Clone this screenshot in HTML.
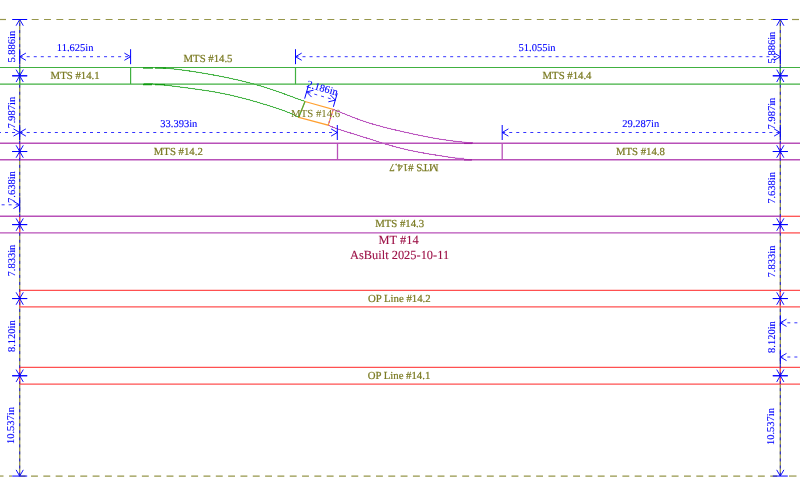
<!DOCTYPE html>
<html><head><meta charset="utf-8"><style>
html,body{margin:0;padding:0;background:#fff;}
body{width:800px;height:495px;overflow:hidden;}
svg{display:block;font-family:"Liberation Serif", serif;}
text{paint-order:stroke;text-rendering:geometricPrecision;}
.t{will-change:opacity;opacity:0.999;}
</style></head><body>
<svg class="t" width="800" height="495" viewBox="0 0 800 495">

<line x1="19.70" y1="19.50" x2="19.70" y2="476.05" stroke="#96964a" stroke-width="1.3" />
<line x1="780.30" y1="19.50" x2="780.30" y2="476.05" stroke="#96964a" stroke-width="1.3" />
<line x1="780.30" y1="216.30" x2="800.00" y2="216.30" stroke="#ff5050" stroke-width="1.3" />
<line x1="780.30" y1="232.90" x2="800.00" y2="232.90" stroke="#ff5050" stroke-width="1.3" />
<line x1="19.70" y1="216.30" x2="19.70" y2="232.90" stroke="#ff5050" stroke-width="1.2" />
<line x1="19.70" y1="290.30" x2="800.00" y2="290.30" stroke="#ff5050" stroke-width="1.3" />
<line x1="19.70" y1="306.80" x2="800.00" y2="306.80" stroke="#ff5050" stroke-width="1.3" />
<line x1="19.70" y1="290.30" x2="19.70" y2="306.80" stroke="#ff5050" stroke-width="1.2" />
<line x1="780.30" y1="290.30" x2="780.30" y2="306.80" stroke="#ff5050" stroke-width="1.2" />
<line x1="19.70" y1="367.40" x2="800.00" y2="367.40" stroke="#ff5050" stroke-width="1.3" />
<line x1="19.70" y1="384.10" x2="800.00" y2="384.10" stroke="#ff5050" stroke-width="1.3" />
<line x1="19.70" y1="367.40" x2="19.70" y2="384.10" stroke="#ff5050" stroke-width="1.2" />
<line x1="780.30" y1="367.40" x2="780.30" y2="384.10" stroke="#ff5050" stroke-width="1.2" />
<line x1="0.00" y1="216.30" x2="780.30" y2="216.30" stroke="#b850b8" stroke-width="1.4" />
<line x1="0.00" y1="232.90" x2="780.30" y2="232.90" stroke="#b850b8" stroke-width="1.4" />
<line x1="780.30" y1="216.30" x2="780.30" y2="232.90" stroke="#b850b8" stroke-width="1.3" />
<line x1="0.00" y1="143.30" x2="800.00" y2="143.30" stroke="#b850b8" stroke-width="1.4" />
<line x1="0.00" y1="159.75" x2="800.00" y2="159.75" stroke="#b850b8" stroke-width="1.4" />
<line x1="19.70" y1="143.30" x2="19.70" y2="159.75" stroke="#b850b8" stroke-width="1.3" />
<line x1="337.50" y1="143.30" x2="337.50" y2="159.75" stroke="#b850b8" stroke-width="1.3" />
<line x1="502.20" y1="143.30" x2="502.20" y2="159.75" stroke="#b850b8" stroke-width="1.3" />
<line x1="780.30" y1="143.30" x2="780.30" y2="159.75" stroke="#b850b8" stroke-width="1.3" />
<line x1="0.00" y1="67.50" x2="800.00" y2="67.50" stroke="#40b040" stroke-width="1.2" />
<line x1="0.00" y1="84.10" x2="800.00" y2="84.10" stroke="#40b040" stroke-width="1.2" />
<line x1="19.70" y1="67.50" x2="19.70" y2="84.10" stroke="#40b040" stroke-width="1.2" />
<line x1="130.60" y1="67.50" x2="130.60" y2="84.10" stroke="#40b040" stroke-width="1.2" />
<line x1="295.50" y1="67.50" x2="295.50" y2="84.10" stroke="#40b040" stroke-width="1.2" />
<line x1="780.30" y1="67.50" x2="780.30" y2="84.10" stroke="#40b040" stroke-width="1.2" />
<polyline points="143.00,67.60 143.84,67.59 144.67,67.56 145.51,67.54 146.35,67.52 147.18,67.51 148.02,67.50 148.86,67.50 149.69,67.50 150.53,67.51 151.37,67.51 152.20,67.53 153.04,67.54 153.88,67.56 154.71,67.59 155.55,67.62 156.38,67.65 157.22,67.68 158.05,67.72 158.89,67.76 159.73,67.81 160.56,67.86 161.39,67.91 162.23,67.96 163.06,68.02 163.90,68.08 164.73,68.14 165.57,68.21 166.40,68.28 167.23,68.35 168.06,68.42 168.90,68.50 169.73,68.57 170.56,68.65 171.39,68.74 172.23,68.82 173.06,68.91 173.89,69.00 174.72,69.09 175.55,69.18 176.38,69.28 177.21,69.38 178.04,69.48 178.87,69.58 179.70,69.68 180.53,69.78 181.36,69.89 182.19,70.00 183.02,70.11 183.85,70.22 184.68,70.33 185.51,70.44 186.34,70.56 187.16,70.67 187.99,70.79 188.82,70.91 189.65,71.03 190.47,71.15 191.30,71.28 192.13,71.40 192.96,71.53 193.78,71.65 194.61,71.78 195.43,71.91 196.26,72.04 197.09,72.17 197.91,72.30 198.74,72.44 199.56,72.57 200.39,72.71 201.21,72.84 202.04,72.98 202.86,73.12 203.69,73.26 204.51,73.40 205.34,73.54 206.16,73.68 206.99,73.83 207.81,73.97 208.63,74.12 209.46,74.26 210.28,74.41 211.10,74.56 211.93,74.71 212.75,74.86 213.57,75.01 214.39,75.16 215.22,75.32 216.04,75.47 216.86,75.63 217.68,75.79 218.50,75.94 219.33,76.10 220.15,76.26 220.97,76.42 221.79,76.59 222.61,76.75 223.43,76.91 224.25,77.08 225.07,77.25 225.89,77.41 226.71,77.58 227.53,77.75 228.35,77.93 229.16,78.10 229.98,78.27 230.80,78.45 231.62,78.63 232.43,78.80 233.25,78.98 234.07,79.17 234.88,79.35 235.70,79.53 236.52,79.72 237.33,79.90 238.15,80.09 238.96,80.28 239.78,80.47 240.59,80.67 241.40,80.86 242.22,81.06 243.03,81.26 243.84,81.46 244.65,81.66 245.46,81.86 246.27,82.06 247.09,82.27 247.90,82.48 248.70,82.69 249.51,82.90 250.32,83.11 251.13,83.33 251.94,83.54 252.74,83.76 253.55,83.98 254.36,84.21 255.16,84.43 255.97,84.66 256.77,84.89 257.58,85.12 258.38,85.35 259.18,85.58 259.98,85.82 260.79,86.06 261.59,86.30 262.39,86.54 263.19,86.78 263.99,87.03 264.79,87.27 265.58,87.52 266.38,87.77 267.18,88.03 267.98,88.28 268.77,88.54 269.57,88.80 270.36,89.06 271.16,89.32 271.95,89.58 272.74,89.85 273.54,90.12 274.33,90.38 275.12,90.65 275.91,90.93 276.70,91.20 277.49,91.48 278.28,91.75 279.07,92.03 279.86,92.31 280.65,92.59 281.43,92.87 282.22,93.16 283.01,93.44 283.80,93.73 284.58,94.01 285.37,94.30 286.15,94.59 286.94,94.88 287.72,95.17 288.51,95.46 289.29,95.75 290.08,96.04 290.86,96.33 291.65,96.62 292.43,96.91 293.21,97.21 294.00,97.50 294.78,97.79 295.57,98.08 296.35,98.37 297.14,98.66 297.92,98.95 298.71,99.23 299.49,99.52 300.28,99.81 301.06,100.09 301.85,100.37 302.64,100.65 303.43,100.93 304.22,101.21 305.00,101.50" fill="none" stroke="#50b850" stroke-width="1.0" stroke-linejoin="round" shape-rendering="crispEdges"/>
<polyline points="143.00,84.10 143.81,84.03 144.62,83.99 145.43,83.95 146.24,83.92 147.05,83.91 147.86,83.90 148.67,83.90 149.47,83.91 150.28,83.92 151.08,83.95 151.89,83.98 152.69,84.01 153.49,84.05 154.29,84.10 155.09,84.15 155.90,84.21 156.70,84.27 157.50,84.34 158.30,84.41 159.10,84.48 159.90,84.56 160.70,84.63 161.50,84.72 162.29,84.80 163.09,84.89 163.89,84.98 164.69,85.07 165.49,85.16 166.29,85.25 167.09,85.35 167.89,85.44 168.68,85.54 169.48,85.64 170.28,85.74 171.08,85.84 171.88,85.94 172.68,86.04 173.48,86.14 174.27,86.25 175.07,86.35 175.87,86.45 176.67,86.56 177.47,86.66 178.27,86.76 179.07,86.87 179.87,86.97 180.67,87.08 181.46,87.18 182.26,87.29 183.06,87.39 183.86,87.50 184.66,87.60 185.46,87.71 186.26,87.81 187.06,87.92 187.86,88.02 188.66,88.13 189.45,88.23 190.25,88.34 191.05,88.45 191.85,88.56 192.65,88.66 193.45,88.77 194.25,88.88 195.04,88.99 195.84,89.10 196.64,89.21 197.44,89.32 198.24,89.43 199.03,89.55 199.83,89.66 200.63,89.77 201.42,89.89 202.22,90.01 203.02,90.12 203.81,90.24 204.61,90.36 205.41,90.48 206.20,90.61 207.00,90.73 207.79,90.85 208.59,90.98 209.38,91.11 210.17,91.24 210.97,91.37 211.76,91.50 212.55,91.63 213.35,91.77 214.14,91.91 214.93,92.04 215.72,92.18 216.52,92.33 217.31,92.47 218.10,92.62 218.89,92.76 219.68,92.91 220.47,93.06 221.26,93.22 222.05,93.37 222.84,93.53 223.62,93.69 224.41,93.85 225.20,94.01 225.99,94.18 226.77,94.34 227.56,94.51 228.35,94.68 229.13,94.85 229.92,95.03 230.70,95.20 231.49,95.38 232.27,95.56 233.06,95.75 233.84,95.93 234.62,96.11 235.41,96.30 236.19,96.49 236.97,96.68 237.75,96.88 238.53,97.07 239.32,97.27 240.10,97.46 240.88,97.66 241.66,97.86 242.44,98.07 243.22,98.27 244.00,98.48 244.78,98.69 245.55,98.89 246.33,99.10 247.11,99.32 247.89,99.53 248.67,99.74 249.44,99.96 250.22,100.17 251.00,100.39 251.77,100.61 252.55,100.83 253.33,101.05 254.10,101.27 254.88,101.50 255.65,101.72 256.43,101.95 257.20,102.17 257.98,102.40 258.75,102.63 259.52,102.86 260.30,103.09 261.07,103.32 261.84,103.55 262.61,103.78 263.39,104.01 264.16,104.25 264.93,104.48 265.70,104.72 266.47,104.96 267.24,105.19 268.01,105.43 268.78,105.67 269.55,105.91 270.32,106.15 271.08,106.39 271.85,106.64 272.62,106.88 273.38,107.13 274.15,107.38 274.91,107.63 275.68,107.88 276.44,108.13 277.20,108.38 277.96,108.64 278.72,108.90 279.48,109.16 280.24,109.42 281.00,109.68 281.76,109.95 282.51,110.22 283.27,110.49 284.02,110.77 284.77,111.05 285.52,111.34 286.27,111.62 287.02,111.92 287.77,112.21 288.51,112.51 289.25,112.82 289.99,113.13 290.73,113.45 291.47,113.77 292.20,114.10 292.93,114.44 293.66,114.79 294.39,115.14 295.12,115.50 295.84,115.87 296.56,116.25 297.28,116.64 297.99,117.03 298.70,117.40" fill="none" stroke="#50b850" stroke-width="1.0" stroke-linejoin="round" shape-rendering="crispEdges"/>
<polyline points="143.00,67.60 143.84,67.59 144.67,67.56 145.51,67.54 146.35,67.52 147.18,67.51 148.02,67.50 148.86,67.50 149.69,67.50 150.53,67.51 151.37,67.51 152.20,67.53 153.04,67.54 153.88,67.56 154.71,67.59 155.55,67.62 156.38,67.65 157.22,67.68 158.05,67.72 158.89,67.76 159.73,67.81 160.56,67.86 161.39,67.91 162.23,67.96 163.06,68.02 163.90,68.08 164.73,68.14 165.57,68.21 166.40,68.28 167.23,68.35 168.06,68.42 168.90,68.50 169.73,68.57 170.56,68.65 171.39,68.74 172.23,68.82 173.06,68.91 173.89,69.00 174.72,69.09 175.55,69.18 176.38,69.28 177.21,69.38 178.04,69.48 178.87,69.58 179.70,69.68 180.53,69.78 181.36,69.89 182.19,70.00 183.02,70.11 183.85,70.22 184.68,70.33 185.51,70.44 186.34,70.56 187.16,70.67 187.99,70.79 188.82,70.91 189.65,71.03 190.47,71.15 191.30,71.28 192.13,71.40 192.96,71.53 193.78,71.65 194.61,71.78 195.43,71.91 196.26,72.04 197.09,72.17 197.91,72.30 198.74,72.44 199.56,72.57 200.39,72.71 201.21,72.84 202.04,72.98 202.86,73.12 203.69,73.26 204.51,73.40 205.34,73.54 206.16,73.68 206.99,73.83 207.81,73.97 208.63,74.12 209.46,74.26 210.28,74.41 211.10,74.56 211.93,74.71 212.75,74.86 213.57,75.01 214.39,75.16 215.22,75.32 216.04,75.47 216.86,75.63 217.68,75.79 218.50,75.94 219.33,76.10 220.15,76.26 220.97,76.42 221.79,76.59 222.61,76.75 223.43,76.91 224.25,77.08 225.07,77.25 225.89,77.41 226.71,77.58 227.53,77.75 228.35,77.93 229.16,78.10 229.98,78.27 230.80,78.45 231.62,78.63 232.43,78.80 233.25,78.98 234.07,79.17 234.88,79.35 235.70,79.53 236.52,79.72 237.33,79.90 238.15,80.09 238.96,80.28 239.78,80.47 240.59,80.67 241.40,80.86 242.22,81.06 243.03,81.26 243.84,81.46 244.65,81.66 245.46,81.86 246.27,82.06 247.09,82.27 247.90,82.48 248.70,82.69 249.51,82.90 250.32,83.11 251.13,83.33 251.94,83.54 252.74,83.76 253.55,83.98 254.36,84.21 255.16,84.43 255.97,84.66 256.77,84.89 257.58,85.12 258.38,85.35 259.18,85.58 259.98,85.82 260.79,86.06 261.59,86.30 262.39,86.54 263.19,86.78 263.99,87.03 264.79,87.27 265.58,87.52 266.38,87.77 267.18,88.03 267.98,88.28 268.77,88.54 269.57,88.80 270.36,89.06 271.16,89.32 271.95,89.58 272.74,89.85 273.54,90.12 274.33,90.38 275.12,90.65 275.91,90.93 276.70,91.20 277.49,91.48 278.28,91.75 279.07,92.03 279.86,92.31 280.65,92.59 281.43,92.87 282.22,93.16 283.01,93.44 283.80,93.73 284.58,94.01 285.37,94.30 286.15,94.59 286.94,94.88 287.72,95.17 288.51,95.46 289.29,95.75 290.08,96.04 290.86,96.33 291.65,96.62 292.43,96.91 293.21,97.21 294.00,97.50 294.78,97.79 295.57,98.08 296.35,98.37 297.14,98.66 297.92,98.95 298.71,99.23 299.49,99.52 300.28,99.81 301.06,100.09 301.85,100.37 302.64,100.65 303.43,100.93 304.22,101.21 305.00,101.50" fill="none" stroke="#40b040" stroke-width="1.0" stroke-linejoin="round" opacity="0.6"/>
<polyline points="143.00,84.10 143.81,84.03 144.62,83.99 145.43,83.95 146.24,83.92 147.05,83.91 147.86,83.90 148.67,83.90 149.47,83.91 150.28,83.92 151.08,83.95 151.89,83.98 152.69,84.01 153.49,84.05 154.29,84.10 155.09,84.15 155.90,84.21 156.70,84.27 157.50,84.34 158.30,84.41 159.10,84.48 159.90,84.56 160.70,84.63 161.50,84.72 162.29,84.80 163.09,84.89 163.89,84.98 164.69,85.07 165.49,85.16 166.29,85.25 167.09,85.35 167.89,85.44 168.68,85.54 169.48,85.64 170.28,85.74 171.08,85.84 171.88,85.94 172.68,86.04 173.48,86.14 174.27,86.25 175.07,86.35 175.87,86.45 176.67,86.56 177.47,86.66 178.27,86.76 179.07,86.87 179.87,86.97 180.67,87.08 181.46,87.18 182.26,87.29 183.06,87.39 183.86,87.50 184.66,87.60 185.46,87.71 186.26,87.81 187.06,87.92 187.86,88.02 188.66,88.13 189.45,88.23 190.25,88.34 191.05,88.45 191.85,88.56 192.65,88.66 193.45,88.77 194.25,88.88 195.04,88.99 195.84,89.10 196.64,89.21 197.44,89.32 198.24,89.43 199.03,89.55 199.83,89.66 200.63,89.77 201.42,89.89 202.22,90.01 203.02,90.12 203.81,90.24 204.61,90.36 205.41,90.48 206.20,90.61 207.00,90.73 207.79,90.85 208.59,90.98 209.38,91.11 210.17,91.24 210.97,91.37 211.76,91.50 212.55,91.63 213.35,91.77 214.14,91.91 214.93,92.04 215.72,92.18 216.52,92.33 217.31,92.47 218.10,92.62 218.89,92.76 219.68,92.91 220.47,93.06 221.26,93.22 222.05,93.37 222.84,93.53 223.62,93.69 224.41,93.85 225.20,94.01 225.99,94.18 226.77,94.34 227.56,94.51 228.35,94.68 229.13,94.85 229.92,95.03 230.70,95.20 231.49,95.38 232.27,95.56 233.06,95.75 233.84,95.93 234.62,96.11 235.41,96.30 236.19,96.49 236.97,96.68 237.75,96.88 238.53,97.07 239.32,97.27 240.10,97.46 240.88,97.66 241.66,97.86 242.44,98.07 243.22,98.27 244.00,98.48 244.78,98.69 245.55,98.89 246.33,99.10 247.11,99.32 247.89,99.53 248.67,99.74 249.44,99.96 250.22,100.17 251.00,100.39 251.77,100.61 252.55,100.83 253.33,101.05 254.10,101.27 254.88,101.50 255.65,101.72 256.43,101.95 257.20,102.17 257.98,102.40 258.75,102.63 259.52,102.86 260.30,103.09 261.07,103.32 261.84,103.55 262.61,103.78 263.39,104.01 264.16,104.25 264.93,104.48 265.70,104.72 266.47,104.96 267.24,105.19 268.01,105.43 268.78,105.67 269.55,105.91 270.32,106.15 271.08,106.39 271.85,106.64 272.62,106.88 273.38,107.13 274.15,107.38 274.91,107.63 275.68,107.88 276.44,108.13 277.20,108.38 277.96,108.64 278.72,108.90 279.48,109.16 280.24,109.42 281.00,109.68 281.76,109.95 282.51,110.22 283.27,110.49 284.02,110.77 284.77,111.05 285.52,111.34 286.27,111.62 287.02,111.92 287.77,112.21 288.51,112.51 289.25,112.82 289.99,113.13 290.73,113.45 291.47,113.77 292.20,114.10 292.93,114.44 293.66,114.79 294.39,115.14 295.12,115.50 295.84,115.87 296.56,116.25 297.28,116.64 297.99,117.03 298.70,117.40" fill="none" stroke="#40b040" stroke-width="1.0" stroke-linejoin="round" opacity="0.6"/>
<line x1="143.00" y1="68.00" x2="153.00" y2="68.00" stroke="#109a10" stroke-width="1.3" />
<line x1="143.00" y1="84.60" x2="152.00" y2="84.60" stroke="#109a10" stroke-width="1.3" />
<line x1="155.00" y1="68.00" x2="166.00" y2="68.00" stroke="#109a10" stroke-width="1.3" />
<line x1="155.00" y1="84.60" x2="165.00" y2="84.60" stroke="#109a10" stroke-width="1.3" />
<polyline points="333.20,109.50 333.88,109.74 334.56,109.98 335.23,110.23 335.91,110.48 336.58,110.74 337.26,111.00 337.93,111.26 338.60,111.52 339.28,111.78 339.95,112.05 340.62,112.32 341.29,112.59 341.96,112.86 342.63,113.13 343.31,113.40 343.98,113.67 344.65,113.95 345.32,114.22 345.99,114.49 346.66,114.76 347.33,115.03 348.00,115.30 348.68,115.57 349.35,115.84 350.02,116.11 350.69,116.38 351.37,116.64 352.04,116.91 352.72,117.17 353.39,117.43 354.07,117.69 354.74,117.95 355.42,118.21 356.10,118.46 356.78,118.72 357.45,118.97 358.13,119.22 358.81,119.47 359.49,119.71 360.17,119.96 360.85,120.20 361.54,120.44 362.22,120.67 362.90,120.91 363.59,121.14 364.27,121.37 364.96,121.60 365.64,121.83 366.33,122.06 367.02,122.28 367.70,122.50 368.39,122.72 369.08,122.94 369.77,123.15 370.46,123.37 371.15,123.58 371.84,123.79 372.54,123.99 373.23,124.20 373.92,124.40 374.62,124.61 375.31,124.81 376.00,125.00 376.70,125.20 377.40,125.40 378.09,125.59 378.79,125.78 379.49,125.97 380.18,126.16 380.88,126.35 381.58,126.54 382.28,126.72 382.98,126.90 383.68,127.09 384.38,127.27 385.08,127.45 385.78,127.63 386.48,127.80 387.18,127.98 387.88,128.16 388.58,128.33 389.28,128.50 389.99,128.68 390.69,128.85 391.39,129.02 392.09,129.19 392.80,129.36 393.50,129.53 394.20,129.69 394.91,129.86 395.61,130.03 396.32,130.19 397.02,130.36 397.72,130.52 398.43,130.68 399.13,130.85 399.84,131.01 400.54,131.17 401.25,131.33 401.95,131.49 402.66,131.65 403.36,131.81 404.07,131.97 404.78,132.13 405.48,132.29 406.19,132.45 406.89,132.60 407.60,132.76 408.30,132.92 409.01,133.07 409.72,133.23 410.42,133.38 411.13,133.54 411.83,133.69 412.54,133.85 413.25,134.00 413.95,134.15 414.66,134.30 415.37,134.45 416.07,134.60 416.78,134.75 417.49,134.90 418.19,135.05 418.90,135.20 419.61,135.35 420.32,135.49 421.02,135.64 421.73,135.79 422.44,135.93 423.15,136.07 423.86,136.22 424.56,136.36 425.27,136.50 425.98,136.64 426.69,136.78 427.40,136.92 428.11,137.05 428.82,137.19 429.53,137.32 430.24,137.46 430.95,137.59 431.66,137.72 432.37,137.85 433.08,137.98 433.79,138.11 434.50,138.23 435.21,138.36 435.92,138.48 436.63,138.61 437.35,138.73 438.06,138.85 438.77,138.96 439.48,139.08 440.20,139.19 440.91,139.31 441.63,139.42 442.34,139.53 443.05,139.64 443.77,139.75 444.48,139.85 445.20,139.95 445.92,140.06 446.63,140.16 447.35,140.26 448.06,140.35 448.78,140.45 449.50,140.54 450.22,140.64 450.93,140.73 451.65,140.82 452.37,140.91 453.09,140.99 453.81,141.08 454.53,141.16 455.25,141.24 455.97,141.33 456.69,141.41 457.40,141.48 458.12,141.56 458.84,141.64 459.56,141.72 460.28,141.79 461.00,141.87 461.72,141.94 462.44,142.01 463.16,142.09 463.88,142.16 464.60,142.23 465.32,142.31 466.04,142.38 466.76,142.45 467.48,142.53 468.19,142.60 468.91,142.68 469.63,142.75 470.34,142.83 471.06,142.91 471.77,142.99 472.50,143.00" fill="none" stroke="#c060c8" stroke-width="1.0" stroke-linejoin="round" shape-rendering="crispEdges"/>
<polyline points="328.20,125.20 328.89,125.51 329.58,125.81 330.27,126.11 330.96,126.40 331.65,126.68 332.34,126.96 333.04,127.23 333.73,127.50 334.43,127.76 335.12,128.02 335.82,128.27 336.52,128.52 337.22,128.76 337.92,129.01 338.62,129.24 339.32,129.48 340.02,129.71 340.72,129.94 341.42,130.17 342.13,130.40 342.83,130.62 343.53,130.85 344.24,131.07 344.94,131.29 345.64,131.51 346.35,131.73 347.05,131.95 347.76,132.17 348.46,132.38 349.16,132.60 349.87,132.82 350.57,133.04 351.28,133.25 351.98,133.47 352.69,133.69 353.40,133.91 354.10,134.12 354.81,134.34 355.51,134.56 356.22,134.78 356.92,135.00 357.63,135.22 358.33,135.44 359.04,135.66 359.74,135.88 360.45,136.10 361.16,136.32 361.86,136.55 362.57,136.77 363.27,136.99 363.98,137.22 364.69,137.44 365.39,137.66 366.10,137.89 366.80,138.11 367.51,138.34 368.22,138.56 368.92,138.79 369.63,139.02 370.33,139.24 371.04,139.47 371.75,139.69 372.46,139.92 373.16,140.14 373.87,140.37 374.58,140.59 375.28,140.82 375.99,141.04 376.70,141.27 377.41,141.49 378.11,141.71 378.82,141.93 379.53,142.16 380.24,142.38 380.95,142.60 381.66,142.82 382.37,143.03 383.08,143.25 383.79,143.47 384.50,143.68 385.21,143.90 385.92,144.11 386.63,144.32 387.34,144.54 388.05,144.74 388.76,144.95 389.48,145.16 390.19,145.37 390.90,145.57 391.62,145.77 392.33,145.97 393.04,146.17 393.76,146.37 394.47,146.57 395.19,146.76 395.90,146.95 396.62,147.14 397.33,147.33 398.05,147.52 398.77,147.71 399.48,147.89 400.20,148.07 400.92,148.25 401.64,148.43 402.36,148.61 403.08,148.78 403.80,148.96 404.52,149.13 405.24,149.30 405.96,149.47 406.68,149.63 407.40,149.80 408.12,149.96 408.84,150.12 409.57,150.28 410.29,150.43 411.01,150.59 411.74,150.74 412.46,150.89 413.18,151.04 413.91,151.19 414.63,151.34 415.36,151.48 416.09,151.63 416.81,151.77 417.54,151.91 418.26,152.05 418.99,152.18 419.72,152.32 420.45,152.46 421.17,152.59 421.90,152.72 422.63,152.85 423.36,152.98 424.09,153.11 424.82,153.24 425.55,153.37 426.28,153.49 427.01,153.62 427.74,153.74 428.47,153.86 429.20,153.98 429.93,154.11 430.66,154.23 431.39,154.35 432.12,154.47 432.85,154.58 433.58,154.70 434.31,154.82 435.05,154.94 435.78,155.05 436.51,155.17 437.24,155.29 437.97,155.40 438.70,155.52 439.44,155.63 440.17,155.75 440.90,155.86 441.63,155.97 442.37,156.09 443.10,156.20 443.83,156.31 444.56,156.43 445.30,156.54 446.03,156.65 446.76,156.76 447.49,156.87 448.23,156.99 448.96,157.10 449.69,157.21 450.42,157.32 451.16,157.43 451.89,157.54 452.62,157.64 453.35,157.75 454.09,157.86 454.82,157.96 455.55,158.07 456.29,158.17 457.02,158.28 457.75,158.38 458.49,158.48 459.22,158.58 459.95,158.67 460.69,158.77 461.42,158.86 462.15,158.95 462.89,159.04 463.62,159.12 464.36,159.20 465.09,159.28 465.83,159.36 466.57,159.43 467.30,159.50 468.04,159.56 468.78,159.62 469.51,159.68 470.25,159.73 471.00,159.70" fill="none" stroke="#c060c8" stroke-width="1.0" stroke-linejoin="round" shape-rendering="crispEdges"/>
<polyline points="333.20,109.50 333.88,109.74 334.56,109.98 335.23,110.23 335.91,110.48 336.58,110.74 337.26,111.00 337.93,111.26 338.60,111.52 339.28,111.78 339.95,112.05 340.62,112.32 341.29,112.59 341.96,112.86 342.63,113.13 343.31,113.40 343.98,113.67 344.65,113.95 345.32,114.22 345.99,114.49 346.66,114.76 347.33,115.03 348.00,115.30 348.68,115.57 349.35,115.84 350.02,116.11 350.69,116.38 351.37,116.64 352.04,116.91 352.72,117.17 353.39,117.43 354.07,117.69 354.74,117.95 355.42,118.21 356.10,118.46 356.78,118.72 357.45,118.97 358.13,119.22 358.81,119.47 359.49,119.71 360.17,119.96 360.85,120.20 361.54,120.44 362.22,120.67 362.90,120.91 363.59,121.14 364.27,121.37 364.96,121.60 365.64,121.83 366.33,122.06 367.02,122.28 367.70,122.50 368.39,122.72 369.08,122.94 369.77,123.15 370.46,123.37 371.15,123.58 371.84,123.79 372.54,123.99 373.23,124.20 373.92,124.40 374.62,124.61 375.31,124.81 376.00,125.00 376.70,125.20 377.40,125.40 378.09,125.59 378.79,125.78 379.49,125.97 380.18,126.16 380.88,126.35 381.58,126.54 382.28,126.72 382.98,126.90 383.68,127.09 384.38,127.27 385.08,127.45 385.78,127.63 386.48,127.80 387.18,127.98 387.88,128.16 388.58,128.33 389.28,128.50 389.99,128.68 390.69,128.85 391.39,129.02 392.09,129.19 392.80,129.36 393.50,129.53 394.20,129.69 394.91,129.86 395.61,130.03 396.32,130.19 397.02,130.36 397.72,130.52 398.43,130.68 399.13,130.85 399.84,131.01 400.54,131.17 401.25,131.33 401.95,131.49 402.66,131.65 403.36,131.81 404.07,131.97 404.78,132.13 405.48,132.29 406.19,132.45 406.89,132.60 407.60,132.76 408.30,132.92 409.01,133.07 409.72,133.23 410.42,133.38 411.13,133.54 411.83,133.69 412.54,133.85 413.25,134.00 413.95,134.15 414.66,134.30 415.37,134.45 416.07,134.60 416.78,134.75 417.49,134.90 418.19,135.05 418.90,135.20 419.61,135.35 420.32,135.49 421.02,135.64 421.73,135.79 422.44,135.93 423.15,136.07 423.86,136.22 424.56,136.36 425.27,136.50 425.98,136.64 426.69,136.78 427.40,136.92 428.11,137.05 428.82,137.19 429.53,137.32 430.24,137.46 430.95,137.59 431.66,137.72 432.37,137.85 433.08,137.98 433.79,138.11 434.50,138.23 435.21,138.36 435.92,138.48 436.63,138.61 437.35,138.73 438.06,138.85 438.77,138.96 439.48,139.08 440.20,139.19 440.91,139.31 441.63,139.42 442.34,139.53 443.05,139.64 443.77,139.75 444.48,139.85 445.20,139.95 445.92,140.06 446.63,140.16 447.35,140.26 448.06,140.35 448.78,140.45 449.50,140.54 450.22,140.64 450.93,140.73 451.65,140.82 452.37,140.91 453.09,140.99 453.81,141.08 454.53,141.16 455.25,141.24 455.97,141.33 456.69,141.41 457.40,141.48 458.12,141.56 458.84,141.64 459.56,141.72 460.28,141.79 461.00,141.87 461.72,141.94 462.44,142.01 463.16,142.09 463.88,142.16 464.60,142.23 465.32,142.31 466.04,142.38 466.76,142.45 467.48,142.53 468.19,142.60 468.91,142.68 469.63,142.75 470.34,142.83 471.06,142.91 471.77,142.99 472.50,143.00" fill="none" stroke="#b850b8" stroke-width="1.0" stroke-linejoin="round" opacity="0.6"/>
<polyline points="328.20,125.20 328.89,125.51 329.58,125.81 330.27,126.11 330.96,126.40 331.65,126.68 332.34,126.96 333.04,127.23 333.73,127.50 334.43,127.76 335.12,128.02 335.82,128.27 336.52,128.52 337.22,128.76 337.92,129.01 338.62,129.24 339.32,129.48 340.02,129.71 340.72,129.94 341.42,130.17 342.13,130.40 342.83,130.62 343.53,130.85 344.24,131.07 344.94,131.29 345.64,131.51 346.35,131.73 347.05,131.95 347.76,132.17 348.46,132.38 349.16,132.60 349.87,132.82 350.57,133.04 351.28,133.25 351.98,133.47 352.69,133.69 353.40,133.91 354.10,134.12 354.81,134.34 355.51,134.56 356.22,134.78 356.92,135.00 357.63,135.22 358.33,135.44 359.04,135.66 359.74,135.88 360.45,136.10 361.16,136.32 361.86,136.55 362.57,136.77 363.27,136.99 363.98,137.22 364.69,137.44 365.39,137.66 366.10,137.89 366.80,138.11 367.51,138.34 368.22,138.56 368.92,138.79 369.63,139.02 370.33,139.24 371.04,139.47 371.75,139.69 372.46,139.92 373.16,140.14 373.87,140.37 374.58,140.59 375.28,140.82 375.99,141.04 376.70,141.27 377.41,141.49 378.11,141.71 378.82,141.93 379.53,142.16 380.24,142.38 380.95,142.60 381.66,142.82 382.37,143.03 383.08,143.25 383.79,143.47 384.50,143.68 385.21,143.90 385.92,144.11 386.63,144.32 387.34,144.54 388.05,144.74 388.76,144.95 389.48,145.16 390.19,145.37 390.90,145.57 391.62,145.77 392.33,145.97 393.04,146.17 393.76,146.37 394.47,146.57 395.19,146.76 395.90,146.95 396.62,147.14 397.33,147.33 398.05,147.52 398.77,147.71 399.48,147.89 400.20,148.07 400.92,148.25 401.64,148.43 402.36,148.61 403.08,148.78 403.80,148.96 404.52,149.13 405.24,149.30 405.96,149.47 406.68,149.63 407.40,149.80 408.12,149.96 408.84,150.12 409.57,150.28 410.29,150.43 411.01,150.59 411.74,150.74 412.46,150.89 413.18,151.04 413.91,151.19 414.63,151.34 415.36,151.48 416.09,151.63 416.81,151.77 417.54,151.91 418.26,152.05 418.99,152.18 419.72,152.32 420.45,152.46 421.17,152.59 421.90,152.72 422.63,152.85 423.36,152.98 424.09,153.11 424.82,153.24 425.55,153.37 426.28,153.49 427.01,153.62 427.74,153.74 428.47,153.86 429.20,153.98 429.93,154.11 430.66,154.23 431.39,154.35 432.12,154.47 432.85,154.58 433.58,154.70 434.31,154.82 435.05,154.94 435.78,155.05 436.51,155.17 437.24,155.29 437.97,155.40 438.70,155.52 439.44,155.63 440.17,155.75 440.90,155.86 441.63,155.97 442.37,156.09 443.10,156.20 443.83,156.31 444.56,156.43 445.30,156.54 446.03,156.65 446.76,156.76 447.49,156.87 448.23,156.99 448.96,157.10 449.69,157.21 450.42,157.32 451.16,157.43 451.89,157.54 452.62,157.64 453.35,157.75 454.09,157.86 454.82,157.96 455.55,158.07 456.29,158.17 457.02,158.28 457.75,158.38 458.49,158.48 459.22,158.58 459.95,158.67 460.69,158.77 461.42,158.86 462.15,158.95 462.89,159.04 463.62,159.12 464.36,159.20 465.09,159.28 465.83,159.36 466.57,159.43 467.30,159.50 468.04,159.56 468.78,159.62 469.51,159.68 470.25,159.73 471.00,159.70" fill="none" stroke="#b850b8" stroke-width="1.0" stroke-linejoin="round" opacity="0.6"/>
<line x1="455.00" y1="158.55" x2="464.00" y2="158.55" stroke="#c060c8" stroke-width="1.4" />
<line x1="464.00" y1="143.40" x2="472.50" y2="143.40" stroke="#a020a0" stroke-width="1.3" />
<line x1="464.00" y1="159.85" x2="472.00" y2="159.85" stroke="#a020a0" stroke-width="1.3" />
<polygon points="305.0,101.5 333.2,109.5 328.2,125.2 298.7,117.4" fill="none" stroke="#ffa030" stroke-width="1.2"/>
<line x1="305.00" y1="101.50" x2="298.70" y2="117.40" stroke="#40b040" stroke-width="1.1" />
<line x1="333.20" y1="109.50" x2="328.20" y2="125.20" stroke="#b850b8" stroke-width="1.1" stroke-dasharray="2 2" stroke-dashoffset="0" />
<line x1="19.40" y1="19.50" x2="780.30" y2="19.50" stroke="#96964a" stroke-width="1.2" stroke-dasharray="6.9 5.42" stroke-dashoffset="0" />
<line x1="-1.00" y1="19.50" x2="6.00" y2="19.50" stroke="#96964a" stroke-width="1.2" />
<line x1="792.00" y1="19.50" x2="799.00" y2="19.50" stroke="#96964a" stroke-width="1.2" />
<line x1="18.70" y1="476.05" x2="780.30" y2="476.05" stroke="#96964a" stroke-width="1.3" stroke-dasharray="6.9 5.42" stroke-dashoffset="0" />
<line x1="-1.00" y1="476.05" x2="3.50" y2="476.05" stroke="#96964a" stroke-width="1.2" />
<line x1="9.00" y1="476.05" x2="12.00" y2="476.05" stroke="#96964a" stroke-width="1.2" />
<line x1="789.00" y1="476.05" x2="796.50" y2="476.05" stroke="#96964a" stroke-width="1.2" />
<line x1="19.70" y1="75.80" x2="19.70" y2="19.50" stroke="#0000ff" stroke-width="0.8" stroke-dasharray="3 4.03" stroke-dashoffset="6.5"/>
<polyline points="23.30,25.70 19.70,19.50 16.10,25.70" fill="none" stroke="#0000ff" stroke-width="0.95"/>
<polyline points="16.10,69.60 19.70,75.80 23.30,69.60" fill="none" stroke="#0000ff" stroke-width="0.95"/>
<line x1="27.20" y1="19.50" x2="12.20" y2="19.50" stroke="#0000ff" stroke-width="1.0" />
<line x1="27.20" y1="75.80" x2="12.20" y2="75.80" stroke="#0000ff" stroke-width="1.0" />
<text x="15.40" y="46.65" fill="#0000ff" stroke="#0000ff" stroke-width="0.12" font-size="10.5" text-anchor="middle" transform="rotate(-90 15.40 46.65)" >5.886in</text>
<line x1="780.30" y1="75.80" x2="780.30" y2="19.50" stroke="#0000ff" stroke-width="0.8" stroke-dasharray="3 4.03" stroke-dashoffset="6.5"/>
<polyline points="783.90,25.70 780.30,19.50 776.70,25.70" fill="none" stroke="#0000ff" stroke-width="0.95"/>
<polyline points="776.70,69.60 780.30,75.80 783.90,69.60" fill="none" stroke="#0000ff" stroke-width="0.95"/>
<line x1="787.80" y1="19.50" x2="772.80" y2="19.50" stroke="#0000ff" stroke-width="1.0" />
<line x1="787.80" y1="75.80" x2="772.80" y2="75.80" stroke="#0000ff" stroke-width="1.0" />
<text x="775.00" y="47.55" fill="#0000ff" stroke="#0000ff" stroke-width="0.12" font-size="10.5" text-anchor="middle" transform="rotate(-90 775.00 47.55)" >5.886in</text>
<line x1="19.70" y1="151.53" x2="19.70" y2="75.80" stroke="#0000ff" stroke-width="0.8" stroke-dasharray="3 4.03" stroke-dashoffset="6.5"/>
<polyline points="23.30,82.00 19.70,75.80 16.10,82.00" fill="none" stroke="#0000ff" stroke-width="0.95"/>
<polyline points="16.10,145.33 19.70,151.53 23.30,145.33" fill="none" stroke="#0000ff" stroke-width="0.95"/>
<line x1="27.20" y1="75.80" x2="12.20" y2="75.80" stroke="#0000ff" stroke-width="1.0" />
<line x1="27.20" y1="151.53" x2="12.20" y2="151.53" stroke="#0000ff" stroke-width="1.0" />
<text x="15.40" y="112.66" fill="#0000ff" stroke="#0000ff" stroke-width="0.12" font-size="10.5" text-anchor="middle" transform="rotate(-90 15.40 112.66)" >7.987in</text>
<line x1="780.30" y1="151.53" x2="780.30" y2="75.80" stroke="#0000ff" stroke-width="0.8" stroke-dasharray="3 4.03" stroke-dashoffset="6.5"/>
<polyline points="783.90,82.00 780.30,75.80 776.70,82.00" fill="none" stroke="#0000ff" stroke-width="0.95"/>
<polyline points="776.70,145.33 780.30,151.53 783.90,145.33" fill="none" stroke="#0000ff" stroke-width="0.95"/>
<line x1="787.80" y1="75.80" x2="772.80" y2="75.80" stroke="#0000ff" stroke-width="1.0" />
<line x1="787.80" y1="151.53" x2="772.80" y2="151.53" stroke="#0000ff" stroke-width="1.0" />
<text x="775.00" y="113.56" fill="#0000ff" stroke="#0000ff" stroke-width="0.12" font-size="10.5" text-anchor="middle" transform="rotate(-90 775.00 113.56)" >7.987in</text>
<line x1="19.70" y1="224.60" x2="19.70" y2="151.53" stroke="#0000ff" stroke-width="0.8" stroke-dasharray="3 4.03" stroke-dashoffset="6.5"/>
<polyline points="23.30,157.72 19.70,151.53 16.10,157.72" fill="none" stroke="#0000ff" stroke-width="0.95"/>
<polyline points="16.10,218.40 19.70,224.60 23.30,218.40" fill="none" stroke="#0000ff" stroke-width="0.95"/>
<line x1="27.20" y1="151.53" x2="12.20" y2="151.53" stroke="#0000ff" stroke-width="1.0" />
<line x1="27.20" y1="224.60" x2="12.20" y2="224.60" stroke="#0000ff" stroke-width="1.0" />
<text x="15.40" y="187.06" fill="#0000ff" stroke="#0000ff" stroke-width="0.12" font-size="10.5" text-anchor="middle" transform="rotate(-90 15.40 187.06)" >7.638in</text>
<line x1="780.30" y1="224.60" x2="780.30" y2="151.53" stroke="#0000ff" stroke-width="0.8" stroke-dasharray="3 4.03" stroke-dashoffset="6.5"/>
<polyline points="783.90,157.72 780.30,151.53 776.70,157.72" fill="none" stroke="#0000ff" stroke-width="0.95"/>
<polyline points="776.70,218.40 780.30,224.60 783.90,218.40" fill="none" stroke="#0000ff" stroke-width="0.95"/>
<line x1="787.80" y1="151.53" x2="772.80" y2="151.53" stroke="#0000ff" stroke-width="1.0" />
<line x1="787.80" y1="224.60" x2="772.80" y2="224.60" stroke="#0000ff" stroke-width="1.0" />
<text x="775.00" y="187.96" fill="#0000ff" stroke="#0000ff" stroke-width="0.12" font-size="10.5" text-anchor="middle" transform="rotate(-90 775.00 187.96)" >7.638in</text>
<line x1="19.70" y1="298.55" x2="19.70" y2="224.60" stroke="#0000ff" stroke-width="0.8" stroke-dasharray="3 4.03" stroke-dashoffset="7.5"/>
<polyline points="23.30,230.80 19.70,224.60 16.10,230.80" fill="none" stroke="#0000ff" stroke-width="0.95"/>
<polyline points="16.10,292.35 19.70,298.55 23.30,292.35" fill="none" stroke="#0000ff" stroke-width="0.95"/>
<line x1="27.20" y1="224.60" x2="12.20" y2="224.60" stroke="#0000ff" stroke-width="1.0" />
<line x1="27.20" y1="298.55" x2="12.20" y2="298.55" stroke="#0000ff" stroke-width="1.0" />
<text x="15.40" y="260.58" fill="#0000ff" stroke="#0000ff" stroke-width="0.12" font-size="10.5" text-anchor="middle" transform="rotate(-90 15.40 260.58)" >7.833in</text>
<line x1="780.30" y1="298.55" x2="780.30" y2="224.60" stroke="#0000ff" stroke-width="0.8" stroke-dasharray="3 4.03" stroke-dashoffset="7.5"/>
<polyline points="783.90,230.80 780.30,224.60 776.70,230.80" fill="none" stroke="#0000ff" stroke-width="0.95"/>
<polyline points="776.70,292.35 780.30,298.55 783.90,292.35" fill="none" stroke="#0000ff" stroke-width="0.95"/>
<line x1="787.80" y1="224.60" x2="772.80" y2="224.60" stroke="#0000ff" stroke-width="1.0" />
<line x1="787.80" y1="298.55" x2="772.80" y2="298.55" stroke="#0000ff" stroke-width="1.0" />
<text x="775.00" y="261.48" fill="#0000ff" stroke="#0000ff" stroke-width="0.12" font-size="10.5" text-anchor="middle" transform="rotate(-90 775.00 261.48)" >7.833in</text>
<line x1="19.70" y1="375.75" x2="19.70" y2="298.55" stroke="#0000ff" stroke-width="0.8" stroke-dasharray="3 4.03" stroke-dashoffset="6.5"/>
<polyline points="23.30,304.75 19.70,298.55 16.10,304.75" fill="none" stroke="#0000ff" stroke-width="0.95"/>
<polyline points="16.10,369.55 19.70,375.75 23.30,369.55" fill="none" stroke="#0000ff" stroke-width="0.95"/>
<line x1="27.20" y1="298.55" x2="12.20" y2="298.55" stroke="#0000ff" stroke-width="1.0" />
<line x1="27.20" y1="375.75" x2="12.20" y2="375.75" stroke="#0000ff" stroke-width="1.0" />
<text x="15.40" y="336.15" fill="#0000ff" stroke="#0000ff" stroke-width="0.12" font-size="10.5" text-anchor="middle" transform="rotate(-90 15.40 336.15)" >8.120in</text>
<line x1="780.30" y1="375.75" x2="780.30" y2="298.55" stroke="#0000ff" stroke-width="0.8" stroke-dasharray="3 4.03" stroke-dashoffset="6.5"/>
<polyline points="783.90,304.75 780.30,298.55 776.70,304.75" fill="none" stroke="#0000ff" stroke-width="0.95"/>
<polyline points="776.70,369.55 780.30,375.75 783.90,369.55" fill="none" stroke="#0000ff" stroke-width="0.95"/>
<line x1="787.80" y1="298.55" x2="772.80" y2="298.55" stroke="#0000ff" stroke-width="1.0" />
<line x1="787.80" y1="375.75" x2="772.80" y2="375.75" stroke="#0000ff" stroke-width="1.0" />
<text x="775.00" y="337.05" fill="#0000ff" stroke="#0000ff" stroke-width="0.12" font-size="10.5" text-anchor="middle" transform="rotate(-90 775.00 337.05)" >8.120in</text>
<line x1="19.70" y1="476.05" x2="19.70" y2="375.75" stroke="#0000ff" stroke-width="0.8" stroke-dasharray="3 4.03" stroke-dashoffset="6.5"/>
<polyline points="23.30,381.95 19.70,375.75 16.10,381.95" fill="none" stroke="#0000ff" stroke-width="0.95"/>
<polyline points="16.10,469.85 19.70,476.05 23.30,469.85" fill="none" stroke="#0000ff" stroke-width="0.95"/>
<line x1="27.20" y1="375.75" x2="12.20" y2="375.75" stroke="#0000ff" stroke-width="1.0" />
<line x1="27.20" y1="476.05" x2="12.20" y2="476.05" stroke="#0000ff" stroke-width="1.0" />
<text x="14.50" y="425.60" fill="#0000ff" stroke="#0000ff" stroke-width="0.12" font-size="10.5" text-anchor="middle" transform="rotate(-90 14.50 425.60)" >10.537in</text>
<line x1="780.30" y1="476.05" x2="780.30" y2="375.75" stroke="#0000ff" stroke-width="0.8" stroke-dasharray="3 4.03" stroke-dashoffset="6.5"/>
<polyline points="783.90,381.95 780.30,375.75 776.70,381.95" fill="none" stroke="#0000ff" stroke-width="0.95"/>
<polyline points="776.70,469.85 780.30,476.05 783.90,469.85" fill="none" stroke="#0000ff" stroke-width="0.95"/>
<line x1="787.80" y1="375.75" x2="772.80" y2="375.75" stroke="#0000ff" stroke-width="1.0" />
<line x1="787.80" y1="476.05" x2="772.80" y2="476.05" stroke="#0000ff" stroke-width="1.0" />
<text x="774.10" y="426.50" fill="#0000ff" stroke="#0000ff" stroke-width="0.12" font-size="10.5" text-anchor="middle" transform="rotate(-90 774.10 426.50)" >10.537in</text>
<line x1="19.70" y1="56.70" x2="130.60" y2="56.70" stroke="#0000ff" stroke-width="0.8" stroke-dasharray="3 4.03" stroke-dashoffset="0"/>
<polyline points="25.90,53.10 19.70,56.70 25.90,60.30" fill="none" stroke="#0000ff" stroke-width="0.95"/>
<polyline points="124.40,60.30 130.60,56.70 124.40,53.10" fill="none" stroke="#0000ff" stroke-width="0.95"/>
<line x1="19.70" y1="49.20" x2="19.70" y2="64.20" stroke="#0000ff" stroke-width="1.0" />
<line x1="130.60" y1="49.20" x2="130.60" y2="64.20" stroke="#0000ff" stroke-width="1.0" />
<text x="75.15" y="50.70" fill="#0000ff" stroke="#0000ff" stroke-width="0.12" font-size="10.5" text-anchor="middle" >11.625in</text>
<line x1="295.50" y1="56.70" x2="780.30" y2="56.70" stroke="#0000ff" stroke-width="0.8" stroke-dasharray="3 4.03" stroke-dashoffset="0"/>
<polyline points="301.70,53.10 295.50,56.70 301.70,60.30" fill="none" stroke="#0000ff" stroke-width="0.95"/>
<polyline points="774.10,60.30 780.30,56.70 774.10,53.10" fill="none" stroke="#0000ff" stroke-width="0.95"/>
<line x1="295.50" y1="49.20" x2="295.50" y2="64.20" stroke="#0000ff" stroke-width="1.0" />
<line x1="780.30" y1="49.20" x2="780.30" y2="64.20" stroke="#0000ff" stroke-width="1.0" />
<text x="537.10" y="50.70" fill="#0000ff" stroke="#0000ff" stroke-width="0.12" font-size="10.5" text-anchor="middle" >51.055in</text>
<line x1="19.70" y1="132.50" x2="337.30" y2="132.50" stroke="#0000ff" stroke-width="0.8" stroke-dasharray="3 4.03" stroke-dashoffset="0"/>
<polyline points="25.90,128.90 19.70,132.50 25.90,136.10" fill="none" stroke="#0000ff" stroke-width="0.95"/>
<polyline points="331.10,136.10 337.30,132.50 331.10,128.90" fill="none" stroke="#0000ff" stroke-width="0.95"/>
<line x1="19.70" y1="125.00" x2="19.70" y2="140.00" stroke="#0000ff" stroke-width="1.0" />
<line x1="337.30" y1="125.00" x2="337.30" y2="140.00" stroke="#0000ff" stroke-width="1.0" />
<text x="178.80" y="127.40" fill="#0000ff" stroke="#0000ff" stroke-width="0.12" font-size="10.5" text-anchor="middle" >33.393in</text>
<line x1="502.20" y1="132.50" x2="780.30" y2="132.50" stroke="#0000ff" stroke-width="0.8" stroke-dasharray="3 4.03" stroke-dashoffset="0"/>
<polyline points="508.40,128.90 502.20,132.50 508.40,136.10" fill="none" stroke="#0000ff" stroke-width="0.95"/>
<polyline points="774.10,136.10 780.30,132.50 774.10,128.90" fill="none" stroke="#0000ff" stroke-width="0.95"/>
<line x1="502.20" y1="125.00" x2="502.20" y2="140.00" stroke="#0000ff" stroke-width="1.0" />
<line x1="780.30" y1="125.00" x2="780.30" y2="140.00" stroke="#0000ff" stroke-width="1.0" />
<text x="640.65" y="127.40" fill="#0000ff" stroke="#0000ff" stroke-width="0.12" font-size="10.5" text-anchor="middle" >29.287in</text>
<line x1="-20.00" y1="132.50" x2="19.70" y2="132.50" stroke="#0000ff" stroke-width="0.8" stroke-dasharray="3 4.03" stroke-dashoffset="3.1"/>
<polyline points="13.50,136.10 19.70,132.50 13.50,128.90" fill="none" stroke="#0000ff" stroke-width="0.95"/>
<line x1="-20.00" y1="204.80" x2="19.70" y2="204.80" stroke="#0000ff" stroke-width="0.8" stroke-dasharray="3 4.03" stroke-dashoffset="6.5"/>
<polyline points="13.50,208.50 19.70,204.90 13.50,201.30" fill="none" stroke="#0000ff" stroke-width="0.95"/>
<line x1="19.70" y1="197.40" x2="19.70" y2="212.40" stroke="#0000ff" stroke-width="1.0" />
<line x1="780.30" y1="322.80" x2="820.00" y2="322.80" stroke="#0000ff" stroke-width="0.8" stroke-dasharray="3 4.03" stroke-dashoffset="0"/>
<polyline points="786.50,319.20 780.30,322.80 786.50,326.40" fill="none" stroke="#0000ff" stroke-width="0.95"/>
<line x1="780.30" y1="315.30" x2="780.30" y2="330.30" stroke="#0000ff" stroke-width="1.0" />
<line x1="780.30" y1="357.00" x2="820.00" y2="357.00" stroke="#0000ff" stroke-width="0.8" stroke-dasharray="3 4.03" stroke-dashoffset="0"/>
<polyline points="786.50,353.40 780.30,357.00 786.50,360.60" fill="none" stroke="#0000ff" stroke-width="0.95"/>
<line x1="780.30" y1="349.50" x2="780.30" y2="364.50" stroke="#0000ff" stroke-width="1.0" />
<line x1="306.60" y1="91.90" x2="335.30" y2="100.10" stroke="#0000ff" stroke-width="0.8" stroke-dasharray="3 4.03" stroke-dashoffset="-1"/>
<polyline points="313.55,90.15 306.60,91.90 311.57,97.07" fill="none" stroke="#0000ff" stroke-width="0.95"/>
<polyline points="328.35,101.85 335.30,100.10 330.33,94.93" fill="none" stroke="#0000ff" stroke-width="0.95"/>
<line x1="308.53" y1="85.17" x2="304.67" y2="98.63" stroke="#0000ff" stroke-width="1.0" />
<line x1="337.23" y1="93.37" x2="333.37" y2="106.83" stroke="#0000ff" stroke-width="1.0" />
<text x="321.45" y="91.40" fill="#0000ff" stroke="#0000ff" stroke-width="0.12" font-size="10.5" text-anchor="middle" transform="rotate(16.0 321.45 91.40)" >2.186in</text>
<text x="75.10" y="79.00" fill="#7a7a22" stroke="#7a7a22" stroke-width="0.22" font-size="10.75" text-anchor="middle" >MTS #14.1</text>
<text x="208.00" y="61.50" fill="#7a7a22" stroke="#7a7a22" stroke-width="0.22" font-size="10.75" text-anchor="middle" >MTS #14.5</text>
<text x="567.00" y="79.00" fill="#7a7a22" stroke="#7a7a22" stroke-width="0.22" font-size="10.75" text-anchor="middle" >MTS #14.4</text>
<text x="315.60" y="116.90" fill="#7a7a22" stroke="#7a7a22" stroke-width="0.05" font-size="10.75" text-anchor="middle" >MTS #14.6</text>
<text x="178.30" y="155.00" fill="#7a7a22" stroke="#7a7a22" stroke-width="0.22" font-size="10.75" text-anchor="middle" >MTS #14.2</text>
<text x="640.40" y="155.00" fill="#7a7a22" stroke="#7a7a22" stroke-width="0.22" font-size="10.75" text-anchor="middle" >MTS #14.8</text>
<text x="413.90" y="164.30" fill="#7a7a22" stroke="#7a7a22" stroke-width="0.22" font-size="10.75" text-anchor="middle" transform="rotate(180 413.90 164.30)" >MTS #14.7</text>
<text x="399.70" y="227.20" fill="#7a7a22" stroke="#7a7a22" stroke-width="0.22" font-size="10.75" text-anchor="middle" >MTS #14.3</text>
<text x="399.30" y="301.50" fill="#7a7a22" stroke="#7a7a22" stroke-width="0.22" font-size="10.75" text-anchor="middle" >OP Line #14.2</text>
<text x="399.00" y="378.60" fill="#7a7a22" stroke="#7a7a22" stroke-width="0.22" font-size="10.75" text-anchor="middle" >OP Line #14.1</text>
<text x="398.60" y="243.70" fill="#9c1046" stroke="#9c1046" stroke-width="0.1" font-size="12.4" text-anchor="middle" >MT #14</text>
<text x="399.60" y="259.10" fill="#9c1046" stroke="#9c1046" stroke-width="0.1" font-size="12.4" text-anchor="middle" >AsBuilt 2025-10-11</text>
</svg>
</body></html>
